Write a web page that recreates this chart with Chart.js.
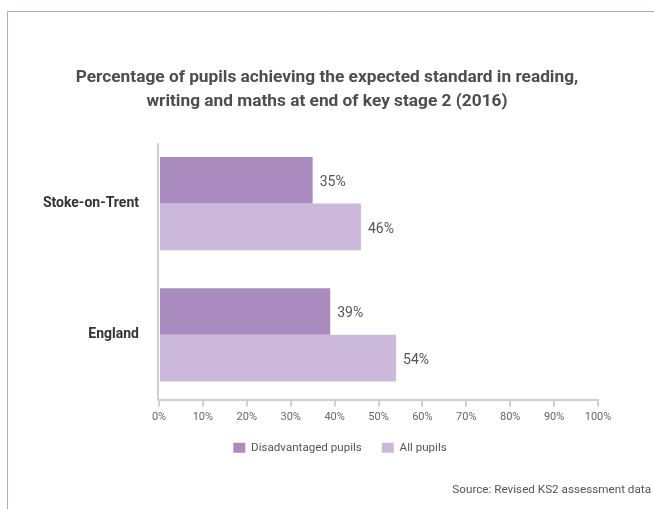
<!DOCTYPE html>
<html>
<head>
<meta charset="utf-8">
<script src="https://cdn.jsdelivr.net/npm/chart.js@4.4.1/dist/chart.umd.min.js"></script>
<style>
  html, body { margin: 0; padding: 0; background: #fff; }
  #wrap { position: relative; width: 654px; height: 509px; }
</style>
</head>
<body>
<div id="wrap"><canvas id="c" width="654" height="509"></canvas></div>
<script>
// Areas compared
const categories = ['Stoke-on-Trent', 'England'];
// Share of pupils reaching the expected standard (%)
const disadvantagedPupils = [35, 39];
const allPupils = [46, 54];
// Horizontal axis ticks (%)
const tickValues = [0, 10, 20, 30, 40, 50, 60, 70, 80, 90, 100];

const titleLines = [
  'Percentage of pupils achieving the expected standard in reading,',
  'writing and maths at end of key stage 2 (2016)'
];
const sourceText = 'Source: Revised KS2 assessment data';

const FONT = "'Roboto', 'Liberation Sans', sans-serif";
const AXIS_GREY = '#d0d0d0';

// Thin purple frame along the top and left edges, the category axis line
// and the source note
const framePlugin = {
  id: 'frame',
  afterLayout(chart) {
    // centre the title on the page and move the legend row right
    if (chart.titleBlock) { chart.titleBlock.left += 28; chart.titleBlock.right += 28; }
    if (chart.legend) { chart.legend.left += 41; chart.legend.right += 41; }
  },
  afterDraw(chart) {
    const ctx = chart.ctx;
    const area = chart.chartArea;
    ctx.save();
    ctx.strokeStyle = '#b3a2d8';
    ctx.lineWidth = 1;
    ctx.beginPath();
    ctx.moveTo(7.5, chart.height);
    ctx.lineTo(7.5, 11.5);
    ctx.lineTo(chart.width, 11.5);
    ctx.stroke();

    ctx.strokeStyle = AXIS_GREY;
    ctx.lineWidth = 2;
    ctx.beginPath();
    ctx.moveTo(area.left - 1, 143);
    ctx.lineTo(area.left - 1, area.bottom);
    ctx.stroke();

    ctx.font = '11.7px ' + FONT;
    ctx.fillStyle = '#555';
    ctx.textAlign = 'right';
    ctx.textBaseline = 'middle';
    ctx.fillText(sourceText, 651, 490);
    ctx.restore();
  }
};

// Value labels just past the end of each bar
const valueLabels = {
  id: 'valueLabels',
  afterDatasetsDraw(chart) {
    const ctx = chart.ctx;
    ctx.save();
    ctx.font = '14px ' + FONT;
    ctx.fillStyle = '#555';
    ctx.textAlign = 'left';
    ctx.textBaseline = 'middle';
    chart.data.datasets.forEach((ds, i) => {
      chart.getDatasetMeta(i).data.forEach((bar, j) => {
        ctx.fillText(ds.data[j] + '%', bar.x + 7, bar.y + 2.5);
      });
    });
    ctx.restore();
  }
};

new Chart(document.getElementById('c'), {
  type: 'bar',
  data: {
    labels: categories,
    datasets: [
      { label: 'Disadvantaged pupils', data: disadvantagedPupils, backgroundColor: '#a98bc0' },
      { label: 'All pupils', data: allPupils, backgroundColor: '#cbb8da' }
    ]
  },
  options: {
    indexAxis: 'y',
    responsive: false,
    animation: false,
    devicePixelRatio: 1,
    categoryPercentage: 0.711,
    barPercentage: 1.0,
    layout: { padding: { left: 0, right: 56, top: 0, bottom: 45.5 } },
    scales: {
      x: {
        min: 0,
        max: 100,
        afterBuildTicks(scale) { scale.ticks = tickValues.map(v => ({ value: v })); },
        afterFit(scale) { scale.height = 21.5; },
        grid: { display: true, drawOnChartArea: false, drawTicks: true, tickLength: 6, color: AXIS_GREY, lineWidth: 2 },
        border: { display: true, color: AXIS_GREY, width: 2 },
        ticks: {
          padding: 4.5,
          color: '#666',
          font: { family: FONT, size: 11 },
          callback: v => v + '%'
        }
      },
      y: {
        afterFit(scale) { scale.width = 159; },
        grid: { display: false, drawTicks: false },
        border: { display: false },
        ticks: {
          padding: 20,
          color: '#333',
          font: { family: FONT, size: 14, weight: 'bold' }
        }
      }
    },
    plugins: {
      title: {
        display: true,
        text: titleLines,
        color: '#4d4d4d',
        font: { family: FONT, size: 17.3, weight: 'bold', lineHeight: 1.387 },
        padding: { top: 66, bottom: 24 }
      },
      legend: {
        position: 'bottom',
        labels: {
          boxWidth: 12,
          boxHeight: 10,
          padding: 20,
          color: '#555',
          font: { family: FONT, size: 11.6 }
        }
      },
      tooltip: { enabled: false }
    }
  },
  plugins: [framePlugin, valueLabels]
});
</script>
</body>
</html>
